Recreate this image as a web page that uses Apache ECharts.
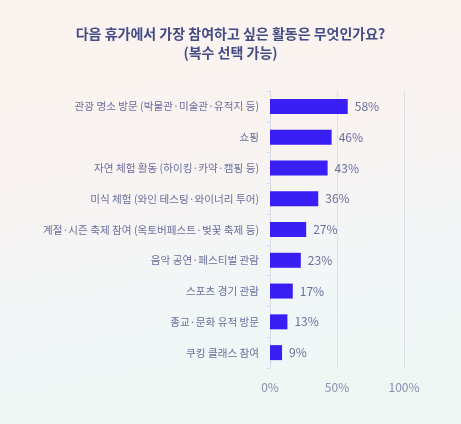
<!DOCTYPE html>
<html><head><meta charset="utf-8">
<script src="https://cdn.jsdelivr.net/npm/echarts@6/dist/echarts.min.js"></script>
<style>
html,body{margin:0;padding:0;width:461px;height:424px;overflow:hidden;}
body{background:linear-gradient(170deg,#fbf3ef 0%,#f9f3f1 35%,#f2f6f7 65%,#edf7f3 100%);}
#c{width:461px;height:424px;}
</style></head>
<body><div id="c"></div>
<script>
const categories = ['관광 명소 방문 (박물관·미술관·유적지 등)','쇼핑','자연 체험 활동 (하이킹·카약·캠핑 등)','미식 체험 (와인 테스팅·와이너리 투어)','계절·시즌 축제 참여 (옥토버페스트·벚꽃 축제 등)','음악 공연·페스티벌 관람','스포츠 경기 관람','종교·문화 유적 방문','쿠킹 클래스 참여'];
const values = [58,46,43,36,27,23,17,13,9];
const titleText = '다음 휴가에서 가장 참여하고 싶은 활동은 무엇인가요?\n(복수 선택 가능)';
const font = '"Noto Sans CJK KR","Noto Sans",sans-serif';
const chart = echarts.init(document.getElementById('c'), null, {renderer:'canvas'});
chart.setOption({
  backgroundColor:'transparent',
  animation:false,
  title:{text:titleText,left:'center',top:19,textStyle:{fontFamily:font,fontSize:14,fontWeight:'bold',color:'#434c86',lineHeight:19}},
  grid:{left:270,right:57,top:91,bottom:56,containLabel:false},
  xAxis:{type:'value',min:0,max:100,interval:50,
    axisLabel:{formatter:'{value}%',fontFamily:font,fontSize:12,color:'#8a8db0',margin:13},
    axisLine:{show:false},axisTick:{show:false},
    splitLine:{show:true,lineStyle:{color:'#dde0ea',width:1}}},
  yAxis:{type:'category',data:categories,inverse:true,
    axisLine:{show:true,lineStyle:{color:'#d6d9e6'}},
    axisTick:{show:true,length:3,lineStyle:{color:'#d6d9e6'}},
    axisLabel:{fontFamily:font,fontSize:10.6,color:'#6b6f9c',margin:11}},
  series:[{type:'bar',data:values,barWidth:15,itemStyle:{color:'#3a1ff5'},
    label:{show:true,position:'right',distance:7,formatter:'{c}%',fontFamily:font,fontSize:12,color:'#6b6f9c'}}]
});
</script></body></html>
